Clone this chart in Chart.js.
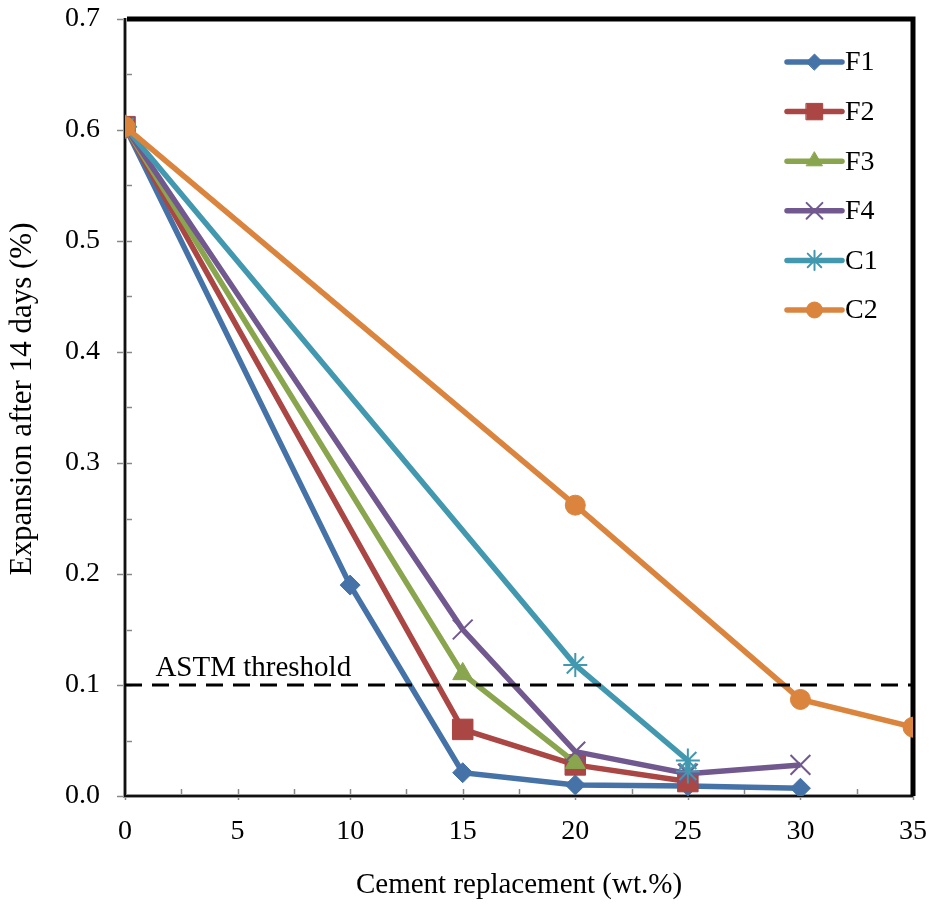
<!DOCTYPE html>
<html>
<head>
<meta charset="utf-8">
<script src="https://cdn.jsdelivr.net/npm/chart.js@4/dist/chart.umd.min.js"></script>
<style>
html,body{margin:0;padding:0;background:#fff;}
canvas{display:block;}
</style>
</head>
<body>
<canvas id="c" width="929" height="905"></canvas>
<script>
// ---- data ----
const seriesNames = ["F1", "F2", "F3", "F4", "C1", "C2"];
const F1 = [[0, 0.603], [10, 0.190], [15, 0.021], [20, 0.010], [25, 0.009], [30, 0.007]];
const F2 = [[0, 0.603], [15, 0.060], [20, 0.028], [25, 0.013]];
const F3 = [[0, 0.603], [15, 0.110], [20, 0.030]];
const F4 = [[0, 0.603], [15, 0.150], [20, 0.040], [25, 0.020], [30, 0.028]];
const C1 = [[0, 0.603], [20, 0.118], [25, 0.032], [25, 0.022]];
const C2 = [[0, 0.603], [20, 0.262], [30, 0.087], [35, 0.062]];
const thresholdValue = 0.1;
const thresholdLabel = "ASTM threshold";
const xTicks = [0, 5, 10, 15, 20, 25, 30, 35];
const yTicks = [0, 0.1, 0.2, 0.3, 0.4, 0.5, 0.6, 0.7];
const xTitle = "Cement replacement (wt.%)";
const yTitle = "Expansion after 14 days (%)";

const FONT = "'Liberation Serif', 'Times New Roman', serif";
const colors = ["#4572A7", "#AA4643", "#89A54E", "#71588F", "#4198AF", "#DB843D"];
const styles = ["rectRot", "rect", "triangle", "crossRot", "star", "circle"];
const radii = [10, 14.5, 11.5, 14, 12, 10];
const seriesData = [F1, F2, F3, F4, C1, C2];

const datasets = seriesData.map((arr, i) => ({
  label: seriesNames[i],
  data: arr.map(p => ({x: p[0], y: p[1]})),
  borderColor: colors[i],
  backgroundColor: colors[i],
  pointBackgroundColor: colors[i],
  pointBorderColor: colors[i],
  pointBorderWidth: (styles[i] === "crossRot" || styles[i] === "star") ? 2 : 1,
  pointStyle: styles[i],
  pointRadius: radii[i],
  borderWidth: 5.5,
  tension: 0,
  fill: false,
  order: 10 - i
}));
datasets.push({
  label: thresholdLabel,
  data: [{x: 0, y: thresholdValue}, {x: 35, y: thresholdValue}],
  borderColor: "#000",
  borderWidth: 3,
  borderDash: [17, 10],
  pointRadius: 0,
  fill: false,
  order: -1
});

function drawMarker(ctx, ds, x, y, scale) {
  ctx.save();
  ctx.fillStyle = ds.pointBackgroundColor;
  ctx.strokeStyle = ds.pointBorderColor;
  ctx.lineWidth = ds.pointBorderWidth;
  Chart.helpers.drawPoint(ctx, {pointStyle: ds.pointStyle, radius: ds.pointRadius * scale, borderWidth: ds.pointBorderWidth, rotation: 0}, x, y);
  ctx.restore();
}

const framePlugin = {
  id: "frame",
  beforeDatasetsDraw(chart) {
    const {ctx, chartArea: a, scales} = chart;
    const xs = scales.x, ys = scales.y;
    ctx.save();
    ctx.strokeStyle = "#888";
    ctx.lineWidth = 1.5;
    for (let k = 0; k <= 14; k++) {
      const v = k * 2.5;
      const px = Math.round(xs.getPixelForValue(v)) + 0.5;
      const major = k % 2 === 0;
      ctx.beginPath();
      ctx.moveTo(px, a.bottom - 7);
      ctx.lineTo(px, a.bottom + (major ? 4 : 0));
      ctx.stroke();
    }
    for (let k = 0; k <= 14; k++) {
      const v = k * 0.05;
      const py = Math.round(ys.getPixelForValue(v)) + 0.5;
      const major = k % 2 === 0;
      ctx.beginPath();
      ctx.moveTo(a.left + 7, py);
      ctx.lineTo(a.left - (major ? 8 : 0), py);
      ctx.stroke();
    }
    ctx.strokeStyle = "#999";
    ctx.lineWidth = 4;
    ctx.beginPath();
    ctx.moveTo(a.left, a.top - 1);
    ctx.lineTo(a.left, a.bottom);
    ctx.lineTo(a.right, a.bottom);
    ctx.stroke();
    ctx.strokeStyle = "#111";
    ctx.lineWidth = 2;
    ctx.beginPath();
    ctx.moveTo(a.left, a.top - 1);
    ctx.lineTo(a.left, a.bottom);
    ctx.lineTo(a.right, a.bottom);
    ctx.stroke();
    ctx.strokeStyle = "#000";
    ctx.lineWidth = 5;
    ctx.beginPath();
    ctx.moveTo(a.left + 2, a.top);
    ctx.lineTo(a.right, a.top);
    ctx.lineTo(a.right, a.bottom);
    ctx.stroke();
    ctx.restore();
  },
  afterDatasetsDraw(chart) {
    const {ctx, scales} = chart;
    ctx.save();
    ctx.font = "29px " + FONT;
    ctx.fillStyle = "#000";
    ctx.textAlign = "left";
    ctx.textBaseline = "alphabetic";
    ctx.fillText(thresholdLabel, scales.x.getPixelForValue(1.35), scales.y.getPixelForValue(thresholdValue) - 9);
    // y-axis title
    ctx.save();
    ctx.translate(23, 399);
    ctx.rotate(-Math.PI / 2);
    ctx.font = "31px " + FONT;
    ctx.textAlign = "center";
    ctx.textBaseline = "middle";
    ctx.fillText(yTitle, 0, 0);
    ctx.restore();
    // legend
    const lx0 = 787, lx1 = 842, ty0 = 62, dy = 49.6;
    chart.data.datasets.slice(0, seriesNames.length).forEach((ds, i) => {
      const y = ty0 + i * dy;
      ctx.strokeStyle = ds.borderColor;
      ctx.lineWidth = 5.5;
      ctx.lineCap = "round";
      ctx.beginPath();
      ctx.moveTo(lx0, y);
      ctx.lineTo(lx1, y);
      ctx.stroke();
      drawMarker(ctx, ds, (lx0 + lx1) / 2, y, 0.8);
      ctx.fillStyle = "#000";
      ctx.font = "28px " + FONT;
      ctx.textAlign = "left";
      ctx.textBaseline = "middle";
      ctx.fillText(ds.label, 845, y + 1);
    });
    ctx.restore();
  }
};

new Chart(document.getElementById("c"), {
  type: "line",
  data: {datasets},
  plugins: [framePlugin],
  options: {
    responsive: false,
    animation: false,
    devicePixelRatio: 1,
    layout: {padding: {left: 0, top: 19, right: 16, bottom: 0}},
    plugins: {legend: {display: false}, tooltip: {enabled: false}},
    scales: {
      x: {
        type: "linear", min: 0, max: 35,
        afterBuildTicks: s => { s.ticks = xTicks.map(v => ({value: v})); },
        afterFit: s => { s.height = 109; s.paddingLeft = 0; s.paddingRight = 0; },
        ticks: {font: {family: FONT, size: 28}, color: "#000", padding: 11, maxRotation: 0},
        grid: {display: true, drawOnChartArea: false, color: "rgba(0,0,0,0)", tickLength: 8},
        border: {display: false},
        title: {display: true, text: xTitle, font: {family: FONT, size: 29}, color: "#000", padding: {top: 0, bottom: 2}}
      },
      y: {
        type: "linear", min: 0, max: 0.7,
        afterBuildTicks: s => { s.ticks = yTicks.map(v => ({value: v})); },
        afterFit: s => { s.width = 125; s.paddingTop = 0; s.paddingBottom = 0; },
        ticks: {font: {family: FONT, size: 28}, color: "#000", padding: 17, callback: v => v.toFixed(1)},
        grid: {display: true, drawOnChartArea: false, color: "rgba(0,0,0,0)", tickLength: 8},
        border: {display: false},
        title: {display: false, text: yTitle}
      }
    }
  }
});
</script>
</body>
</html>
